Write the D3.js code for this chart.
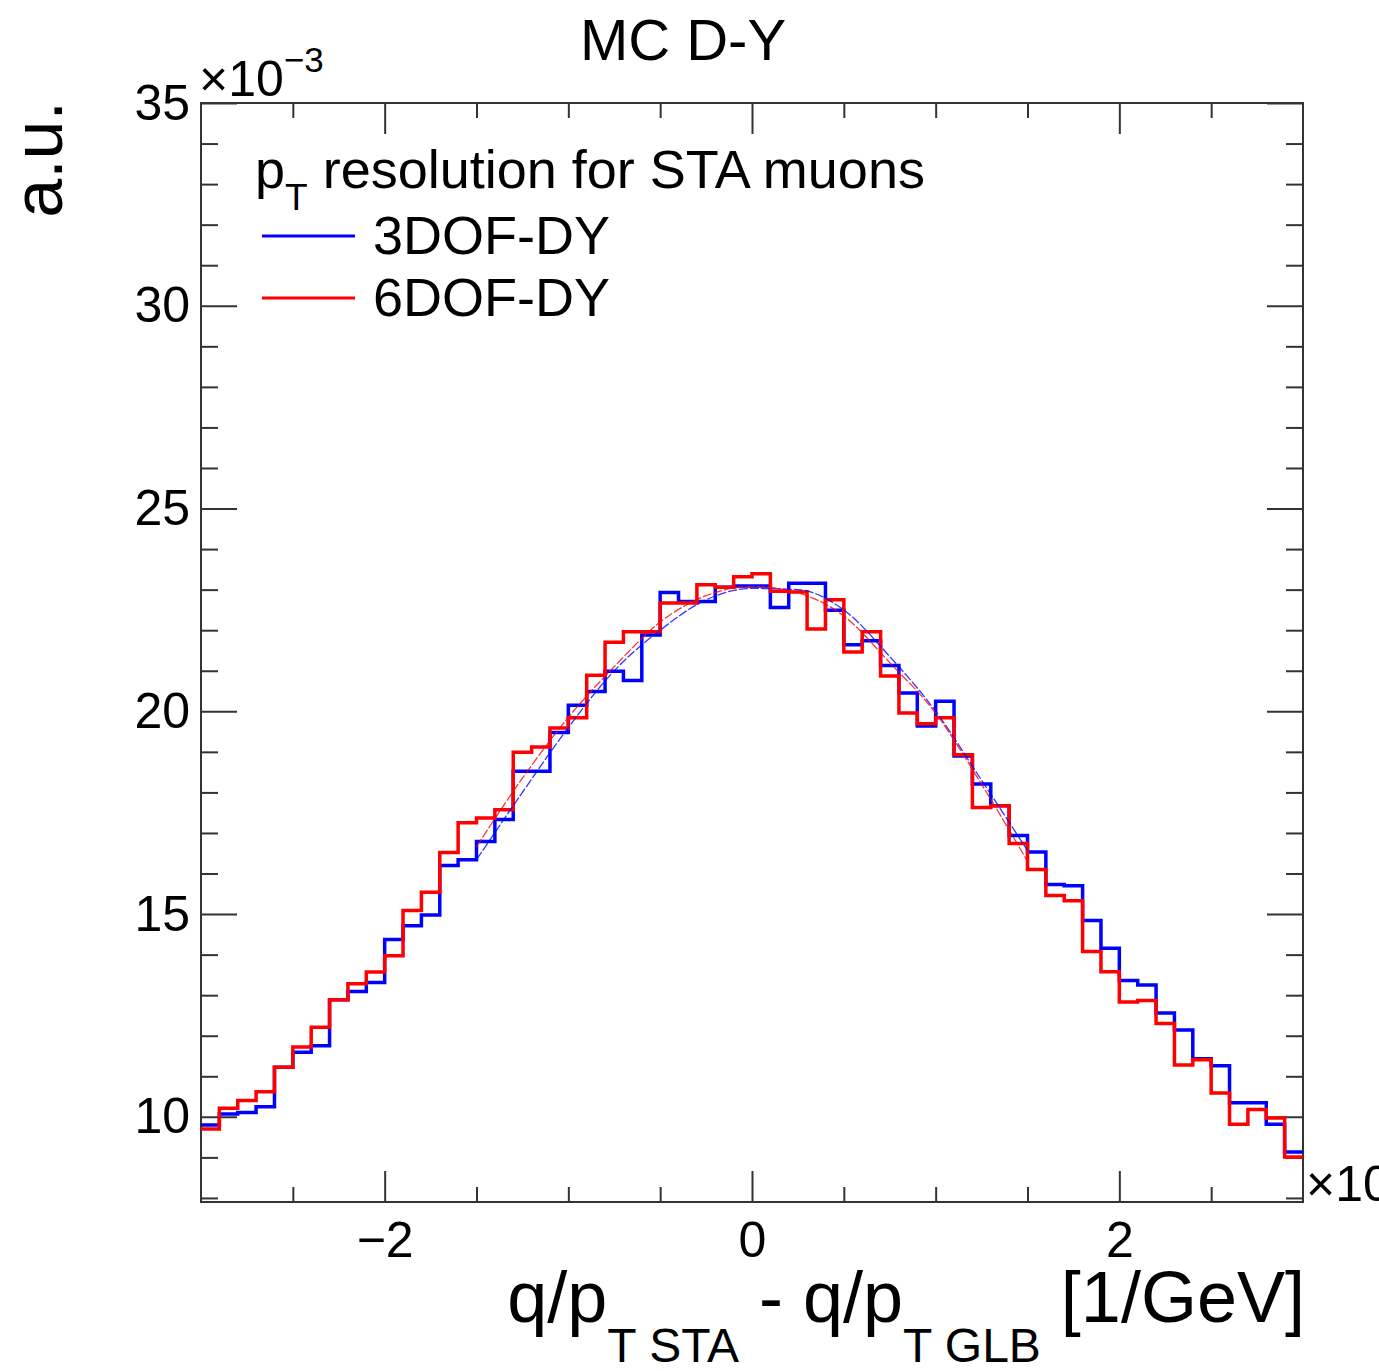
<!DOCTYPE html>
<html>
<head>
<meta charset="utf-8">
<script src="https://cdn.jsdelivr.net/npm/d3@7/dist/d3.min.js"></script>
<style>
  body { margin: 0; background: #fff; }
  svg { display: block; font-family: "Liberation Sans", Arial, Helvetica, sans-serif; }
</style>
</head>
<body>
<svg id="chart" width="1379" height="1371"></svg>
<script>
// histogram binning: 60 bins of 0.1 from -3 to 3
const binEdges = d3.range(60).map(i => -3 + i * 0.1);

// bin contents (x10^-3)
const blue3DOF = [
  9.80, 10.07, 10.11, 10.25, 11.22, 11.59, 11.75, 12.89, 13.09, 13.31,
  14.37, 14.71, 14.98, 16.20, 16.34, 16.79, 17.33, 18.52, 18.52, 19.48,
  20.15, 20.49, 20.99, 20.76, 21.88, 22.93, 22.71, 22.71, 23.06, 23.09,
  23.09, 22.56, 23.16, 23.16, 22.49, 21.64, 21.74, 21.13, 20.45, 19.64,
  20.25, 18.90, 18.21, 17.67, 16.94, 16.53, 15.73, 15.70, 14.84, 14.16,
  13.36, 13.25, 12.56, 12.14, 11.43, 11.26, 10.35, 10.35, 9.82, 9.13
];
const red6DOF = [
  9.70, 10.21, 10.40, 10.62, 11.22, 11.72, 12.21, 12.89, 13.28, 13.57,
  13.97, 15.09, 15.54, 16.52, 17.25, 17.37, 17.57, 18.99, 19.12, 19.59,
  19.84, 20.89, 21.70, 21.96, 21.96, 22.67, 22.67, 23.12, 23.06, 23.32,
  23.39, 22.96, 22.94, 22.03, 22.75, 21.46, 21.96, 20.87, 19.96, 19.69,
  19.84, 18.93, 17.63, 17.67, 16.74, 16.10, 15.46, 15.33, 14.08, 13.58,
  12.83, 12.87, 12.30, 11.28, 11.41, 10.59, 9.82, 10.18, 9.97, 9.01
];

// fitted curves over [-1.5, 1.5]
const fitX = [-1.5, -1.25, -1.0, -0.75, -0.5, -0.25, 0, 0.25, 0.5, 0.75, 1.0, 1.25, 1.5];
const fitBlue = [16.34, 18.0, 19.6, 21.0, 22.0, 22.75, 23.03, 23.0, 22.5, 21.35, 20.0, 18.3, 16.57];
const fitRed = [16.66, 18.35, 19.85, 21.1, 22.2, 22.85, 23.08, 22.92, 22.35, 21.2, 19.95, 18.2, 16.3];

// axis ticks
const xMajor = [-2, 0, 2];
const xMinor = [-2.5, -1.5, -1, -0.5, 0.5, 1, 1.5, 2.5];
const yMajor = [10, 15, 20, 25, 30, 35];
const yMinor = [8, 9, 11, 12, 13, 14, 16, 17, 18, 19, 21, 22, 23, 24, 26, 27, 28, 29, 31, 32, 33, 34];

const legendItems = [
  { label: '3DOF-DY', color: '#0000ff' },
  { label: '6DOF-DY', color: '#ff0000' }
];

const svg = d3.select('#chart');
const padL = 201, padR = 1303, padT = 103, padB = 1202;

const x = d3.scaleLinear().domain([-3, 3]).range([padL, padR]);
const y = d3.scaleLinear().domain([7.9, 35]).range([padB, padT]);

svg.append('rect').attr('width', 1379).attr('height', 1371).attr('fill', '#fff');

svg.append('defs').append('clipPath').attr('id', 'plotclip')
  .append('rect').attr('x', padL).attr('y', padT)
  .attr('width', padR - padL).attr('height', padB - padT);

// ---- axes ----
function styleAxis(g) {
  g.select('.domain').remove();
  g.selectAll('line').attr('stroke', '#333').attr('stroke-width', 2);
  g.selectAll('text').attr('fill', '#000').attr('font-size', 50)
    .attr('font-family', '"Liberation Sans", Arial, sans-serif');
}

// bottom
svg.append('g').attr('transform', `translate(0,${padB})`)
  .call(d3.axisBottom(x).tickValues(xMajor).tickSize(-31).tickPadding(19).tickFormat(d3.format('d')))
  .call(styleAxis);
svg.append('g').attr('transform', `translate(0,${padB})`)
  .call(d3.axisBottom(x).tickValues(xMinor).tickSize(-15).tickFormat(''))
  .call(styleAxis);
// top
svg.append('g').attr('transform', `translate(0,${padT})`)
  .call(d3.axisTop(x).tickValues(xMajor).tickSize(-31).tickFormat(''))
  .call(styleAxis);
svg.append('g').attr('transform', `translate(0,${padT})`)
  .call(d3.axisTop(x).tickValues(xMinor).tickSize(-15).tickFormat(''))
  .call(styleAxis);
// left
svg.append('g').attr('transform', `translate(${padL},0)`)
  .call(d3.axisLeft(y).tickValues(yMajor).tickSize(-36).tickPadding(11).tickFormat(d3.format('d')))
  .call(styleAxis);
svg.append('g').attr('transform', `translate(${padL},0)`)
  .call(d3.axisLeft(y).tickValues(yMinor).tickSize(-17).tickFormat(''))
  .call(styleAxis);
// right
svg.append('g').attr('transform', `translate(${padR},0)`)
  .call(d3.axisRight(y).tickValues(yMajor).tickSize(-36).tickFormat(''))
  .call(styleAxis);
svg.append('g').attr('transform', `translate(${padR},0)`)
  .call(d3.axisRight(y).tickValues(yMinor).tickSize(-17).tickFormat(''))
  .call(styleAxis);

// frame
svg.append('rect')
  .attr('x', padL).attr('y', padT)
  .attr('width', padR - padL).attr('height', padB - padT)
  .attr('fill', 'none').attr('stroke', '#333').attr('stroke-width', 2);

// ---- histograms ----
const step = d3.line()
  .x(d => x(d[0]))
  .y(d => y(d[1]))
  .curve(d3.curveStepAfter);

function histPoints(vals) {
  const pts = binEdges.map((e, i) => [e, vals[i]]);
  pts.push([3, vals[vals.length - 1]]);
  return pts;
}

const plot = svg.append('g').attr('clip-path', 'url(#plotclip)');

plot.append('path')
  .attr('d', step(histPoints(blue3DOF)))
  .attr('fill', 'none').attr('stroke', '#0000ff').attr('stroke-width', 3.5);

plot.append('path')
  .attr('d', step(histPoints(red6DOF)))
  .attr('fill', 'none').attr('stroke', '#ff0000').attr('stroke-width', 3.5);

// ---- fits ----
const smooth = d3.line()
  .x((d, i) => x(fitX[i]))
  .y(d => y(d))
  .curve(d3.curveMonotoneX);

plot.append('path')
  .attr('d', smooth(fitBlue))
  .attr('fill', 'none').attr('stroke', '#0000ff').attr('stroke-width', 1.3)
  .attr('stroke-opacity', 0.8).attr('stroke-dasharray', '9,2');

plot.append('path')
  .attr('d', smooth(fitRed))
  .attr('fill', 'none').attr('stroke', '#ff0000').attr('stroke-width', 1.3)
  .attr('stroke-opacity', 0.8).attr('stroke-dasharray', '9,2');

// ---- texts ----
svg.append('text')
  .attr('x', 683).attr('y', 60)
  .attr('text-anchor', 'middle').attr('font-size', 58)
  .text('MC D-Y');

// y exponent
const yExp = svg.append('text').attr('x', 199).attr('y', 96).attr('font-size', 50);
yExp.append('tspan').text('×10');
yExp.append('tspan').attr('font-size', 35).attr('dy', -24).text('−3');

// x exponent, runs off the right edge like in the original
svg.append('text').attr('x', 1306).attr('y', 1201).attr('font-size', 50).text('×10');

// y title
svg.append('text')
  .attr('transform', 'translate(62,101) rotate(-90)')
  .attr('text-anchor', 'end').attr('font-size', 70)
  .text('a.u.');

// x title
const xt = svg.append('text')
  .attr('x', 1305).attr('y', 1322)
  .attr('text-anchor', 'end').attr('font-size', 72);
xt.append('tspan').text('q/p');
xt.append('tspan').attr('font-size', 48).attr('dy', 40).text('T STA');
xt.append('tspan').attr('dy', -40).text(' - q/p');
xt.append('tspan').attr('font-size', 48).attr('dy', 40).text('T GLB');
xt.append('tspan').attr('dy', -40).text(' [1/GeV]');

// ---- legend ----
const head = svg.append('text').attr('x', 255).attr('y', 188).attr('font-size', 54);
head.append('tspan').text('p');
head.append('tspan').attr('font-size', 37).attr('dy', 22).text('T');
head.append('tspan').attr('dy', -22).text(' resolution for STA muons');

const leg = svg.append('g');
legendItems.forEach((d, i) => {
  const cy = 236 + i * 62;
  leg.append('line')
    .attr('x1', 262).attr('x2', 355).attr('y1', cy).attr('y2', cy)
    .attr('stroke', d.color).attr('stroke-width', 3);
  leg.append('text')
    .attr('x', 373).attr('y', cy + 18).attr('font-size', 54)
    .text(d.label);
});
</script>
</body>
</html>
